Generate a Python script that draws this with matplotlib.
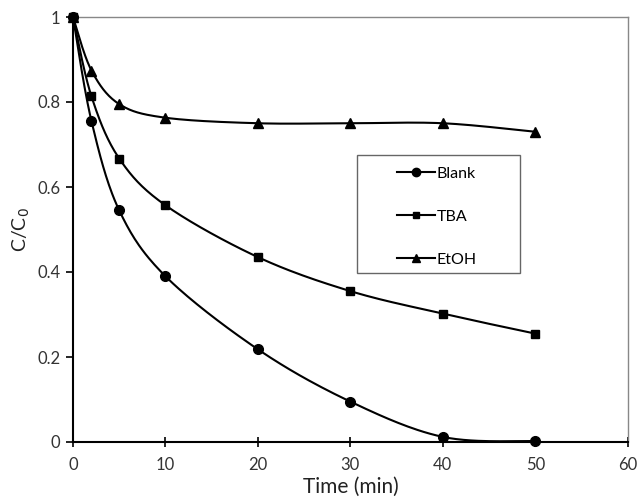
import numpy as np
import matplotlib
matplotlib.use("Agg")
import matplotlib.pyplot as plt
from matplotlib.patches import Rectangle

plt.rcParams['font.family'] = ['Lato', 'DejaVu Sans']

time_min = [0, 2, 5, 10, 20, 30, 40, 50]
blank = [1.0, 0.755, 0.545, 0.390, 0.218, 0.095, 0.012, 0.002]
tba = [1.0, 0.813, 0.667, 0.557, 0.435, 0.355, 0.302, 0.255]
etoh = [1.0, 0.874, 0.795, 0.763, 0.750, 0.750, 0.750, 0.730]

series = [("Blank", blank, "o", 7),
          ("TBA", tba, "s", 6),
          ("EtOH", etoh, "^", 7)]


def smooth(x, y, n=30):
    """ Excel-like smoothed line: Catmull-Rom spline through the points. """
    x = np.asarray(x, float)
    y = np.asarray(y, float)
    px = np.concatenate([[x[0]], x, [x[-1]]])
    py = np.concatenate([[y[0]], y, [y[-1]]])
    xs, ys = [], []
    t = np.linspace(0, 1, n)
    for i in range(1, len(px) - 2):
        p0, p1, p2, p3 = [np.array([px[j], py[j]]) for j in (i - 1, i, i + 1, i + 2)]
        c1 = p1 + (p2 - p0) / 6.
        c2 = p2 - (p3 - p1) / 6.
        pts = ((1 - t) ** 3)[:, None] * p1 + (3 * (1 - t) ** 2 * t)[:, None] * c1 \
            + (3 * (1 - t) * t ** 2)[:, None] * c2 + (t ** 3)[:, None] * p2
        xs.extend(pts[:, 0])
        ys.extend(pts[:, 1])
    return xs, ys


fig = plt.figure(figsize=(6.38, 5.0), dpi=100)
ax = fig.add_axes([0.1144, 0.116, 0.8696, 0.85])

for label, vals, mk, ms in series:
    sx, sy = smooth(time_min, vals)
    ax.plot(sx, sy, color='black', lw=1.5)
    ax.plot(time_min, vals, linestyle='none', marker=mk, ms=ms, color='black',
            clip_on=False, zorder=3)
    ax.plot([], [], color='black', lw=1.5, marker=mk, ms=ms - 1, label=label)

ax.set_xlim(0, 60)
ax.set_ylim(0, 1)
ax.set_xticks(range(0, 61, 10))
ax.set_yticks([0, 0.2, 0.4, 0.6, 0.8, 1])
ax.set_yticklabels(["0", "0.2", "0.4", "0.6", "0.8", "1"])
ax.tick_params(axis='both', labelsize=12, color='black', labelcolor='#333333', width=1.2)
ax.tick_params(axis='x', direction='inout', length=7, pad=7)
ax.tick_params(axis='y', direction='out', length=5, pad=4)

for s in ('top', 'right'):
    ax.spines[s].set_color('#888888')
    ax.spines[s].set_linewidth(1)
for s in ('left', 'bottom'):
    ax.spines[s].set_color('black')
    ax.spines[s].set_linewidth(1.5)

ax.set_xlabel("Time (min)", fontsize=15, color='#222222', labelpad=3)
ax.set_ylabel("C/C$_0$", fontsize=14, color='#222222', labelpad=4)

# legend box drawn separately, entries placed inside it
ax.add_patch(Rectangle((0.512, 0.398), 0.294, 0.278, transform=ax.transAxes,
                       fill=True, facecolor='white', edgecolor='#666666', lw=1, zorder=4))
leg = ax.legend(loc='center left', bbox_to_anchor=(0.584, 0.530), frameon=False,
                fontsize=11.5, handlelength=2.4, labelspacing=1.8,
                borderpad=0, handletextpad=0.1, borderaxespad=0)
leg.set_zorder(5)

fig.savefig("out.png", dpi=100)
